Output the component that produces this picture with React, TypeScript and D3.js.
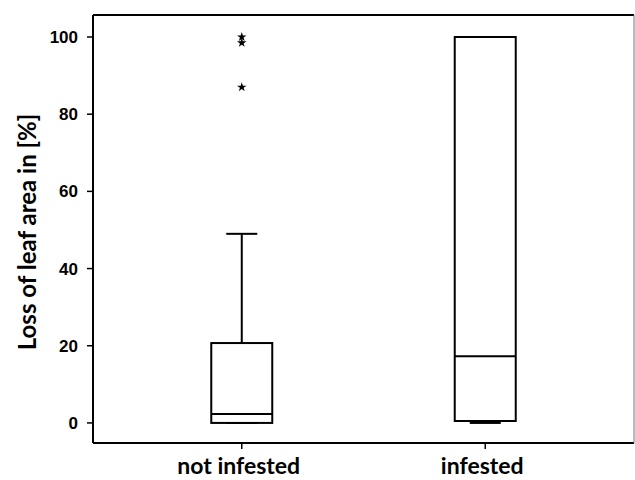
import React from "react";
import * as d3 from "d3";

const categories = ["not infested", "infested"];
const whiskerLow = [0, 0];
const q1 = [0, 0.5];
const median = [2.3, 17.3];
const q3 = [20.7, 100];
const whiskerHigh = [49, 100];
const outliers = [[100, 98.5, 87], []];
const yTicks = [0, 20, 40, 60, 80, 100];

const W = 635, H = 480;
const left = 93, right = 634, top = 15, bottom = 443;

export default function App() {
  const y = d3.scaleLinear().domain([-5.2, 105.7]).range([bottom, top]);
  const x = d3.scalePoint<string>().domain(categories).range([left, right]).padding(0.611);
  const boxW = 61, capW = 31;
  const star = d3.symbol().type(d3.symbolStar).size(28)() as string;
  return (
    <svg width={W} height={H} style={{ position: "absolute", left: 0, top: 0 }}>
      <rect x={0} y={0} width={W} height={H} fill="#fff" />
      <line x1={left} x2={left} y1={top} y2={bottom} stroke="#000" strokeWidth={2} />
      <line x1={left} x2={right} y1={top} y2={top} stroke="#000" strokeWidth={2} />
      <line x1={left} x2={right} y1={bottom} y2={bottom} stroke="#000" strokeWidth={2} />
      <line x1={right} x2={right} y1={top} y2={bottom} stroke="#777" strokeWidth={1} />
      {yTicks.map((t) => (
        <g key={t}>
          <line x1={left - 6} x2={left} y1={y(t)} y2={y(t)} stroke="#000" strokeWidth={1.5} />
          <text x={left - 15} y={y(t)} dy="0.35em" textAnchor="end"
            fontFamily="Liberation Sans, Arial, sans-serif" fontWeight="bold" fontSize={17}>{t}</text>
        </g>
      ))}
      {categories.map((c, i) => {
        const cx = x(c)!;
        return (
          <g key={c}>
            <line x1={cx} x2={cx} y1={bottom} y2={bottom + 6} stroke="#000" strokeWidth={1.5} />
            <text x={cx - 3} y={474} textAnchor="middle" fontFamily="Lato, sans-serif"
              fontWeight="bold" fontSize={23}>{c}</text>
            <line x1={cx} x2={cx} y1={y(q3[i])} y2={y(whiskerHigh[i])} stroke="#000" strokeWidth={2} />
            <line x1={cx} x2={cx} y1={y(q1[i])} y2={y(whiskerLow[i])} stroke="#000" strokeWidth={2} />
            <line x1={cx - capW / 2} x2={cx + capW / 2} y1={y(whiskerHigh[i])} y2={y(whiskerHigh[i])} stroke="#000" strokeWidth={2} />
            <line x1={cx - capW / 2} x2={cx + capW / 2} y1={y(whiskerLow[i])} y2={y(whiskerLow[i])} stroke="#000" strokeWidth={2} />
            <rect x={cx - boxW / 2} y={y(q3[i])} width={boxW} height={y(q1[i]) - y(q3[i])}
              fill="#fff" stroke="#000" strokeWidth={2} />
            <line x1={cx - boxW / 2} x2={cx + boxW / 2} y1={y(median[i])} y2={y(median[i])} stroke="#000" strokeWidth={2} />
            {outliers[i].map((v, j) => (
              <path key={j} d={star} transform={`translate(${cx},${y(v)})`} fill="#000" />
            ))}
          </g>
        );
      })}
      <text transform={`translate(36,232) rotate(-90)`} textAnchor="middle"
        fontFamily="Lato, sans-serif" fontWeight="bold" fontSize={24}>Loss of leaf area in [%]</text>
    </svg>
  );
}
